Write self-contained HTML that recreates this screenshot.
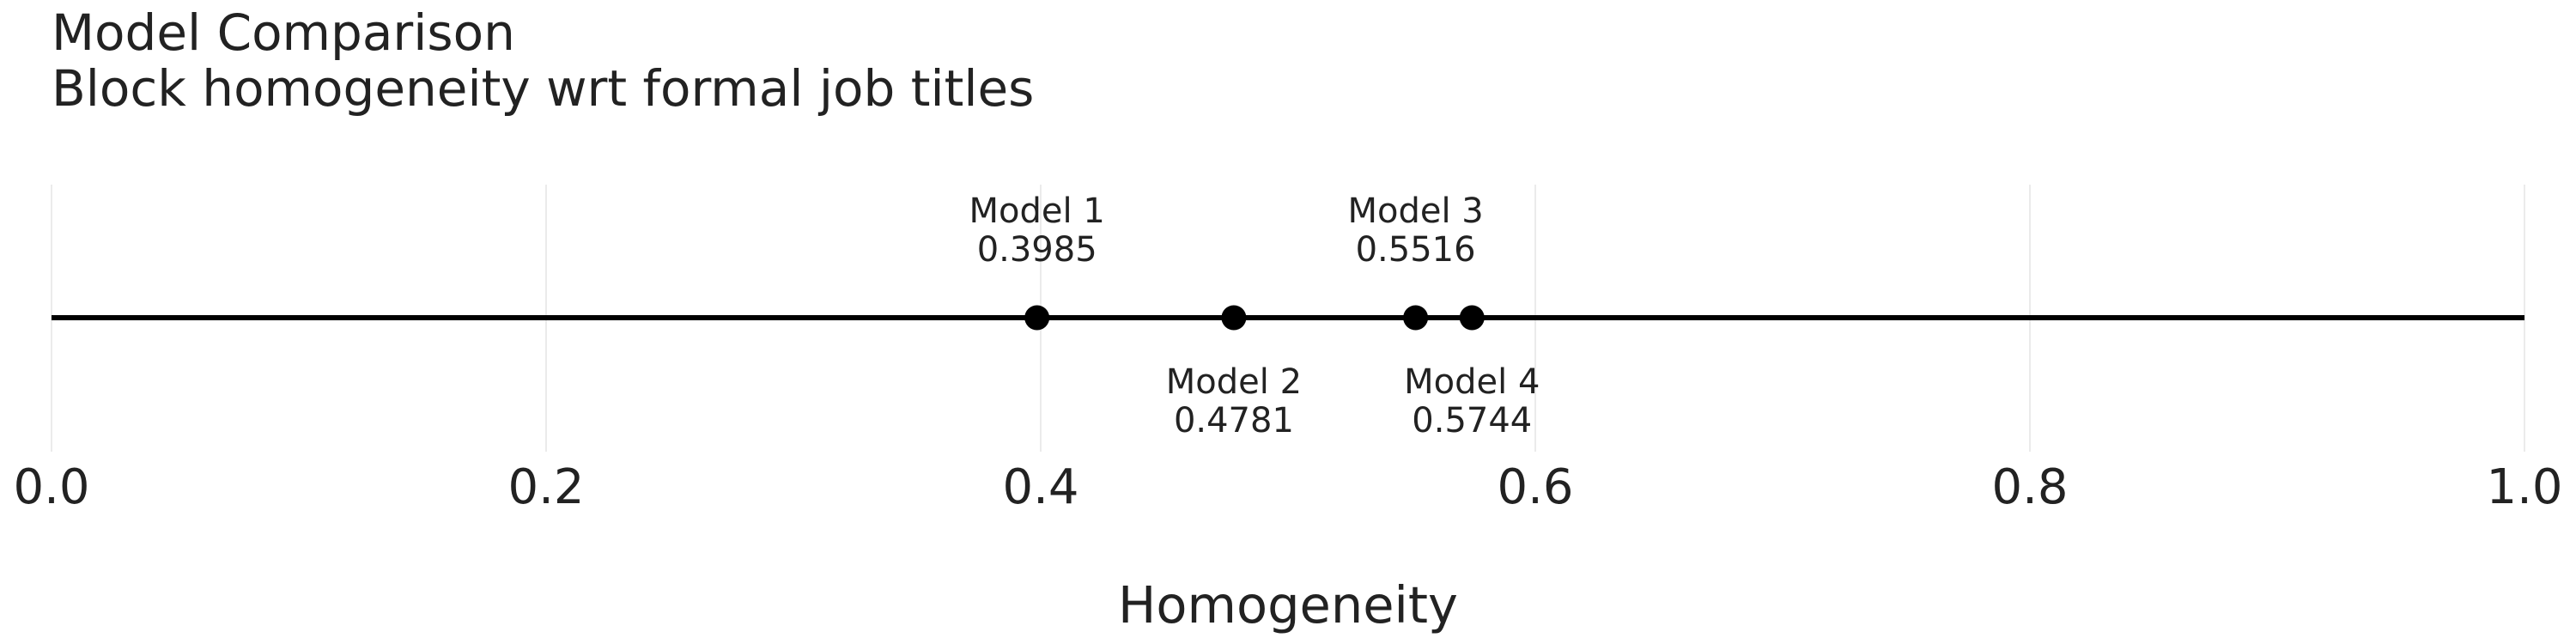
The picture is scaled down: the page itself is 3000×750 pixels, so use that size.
<!DOCTYPE html>
<html><head><meta charset="utf-8"><style>
html,body{margin:0;padding:0;background:#fff;width:3000px;height:750px;overflow:hidden}
svg text{font-family:"DejaVu Sans","Liberation Sans",sans-serif;fill:#222}
</style></head><body>
<svg id="chart" width="3000" height="750">
<text x="60" y="58" font-size="58">Model Comparison</text>
<text x="60" y="123" font-size="58">Block homogeneity wrt formal job titles</text>
<g id="grid"></g>
<g id="ticks"></g>
<line x1="60" x2="2940" y1="370" y2="370" stroke="#000" stroke-width="6"/>
<g id="marks"></g>
<text x="1500" y="725" font-size="59" text-anchor="middle">Homogeneity</text>
</svg>
<script>
const models = ["Model 1","Model 2","Model 3","Model 4"];
const values = [0.3985,0.4781,0.5516,0.5744];
const valueLabels = ["0.3985","0.4781","0.5516","0.5744"];
const labelAbove = [true,false,true,false];
const tickValues = [0,0.2,0.4,0.6,0.8,1.0];
const tickLabels = ["0.0","0.2","0.4","0.6","0.8","1.0"];
const NS="http://www.w3.org/2000/svg";
const x = v => 60 + v*2880;
const grid=document.getElementById('grid'), ticks=document.getElementById('ticks'), marks=document.getElementById('marks');
tickValues.forEach((t,i)=>{
  const l=document.createElementNS(NS,'line');
  l.setAttribute('x1',x(t));l.setAttribute('x2',x(t));l.setAttribute('y1',215);l.setAttribute('y2',526);
  l.setAttribute('stroke','#ebebeb');l.setAttribute('stroke-width','2');
  
  
  grid.appendChild(l);
  const tx=document.createElementNS(NS,'text');
  tx.setAttribute('x',x(t));tx.setAttribute('y',586);tx.setAttribute('font-size','56');tx.setAttribute('text-anchor','middle');
  tx.textContent=tickLabels[i];
  
  
  ticks.appendChild(tx);
});
values.forEach((v,i)=>{
  const c=document.createElementNS(NS,'circle');
  c.setAttribute('cx',x(v));c.setAttribute('cy',370);c.setAttribute('r',14.5);c.setAttribute('fill','#000');
  
  
  marks.appendChild(c);
  const y1 = labelAbove[i] ? 259 : 458;
  const t1=document.createElementNS(NS,'text');
  t1.setAttribute('x',x(v));t1.setAttribute('y',y1);t1.setAttribute('font-size','40');t1.setAttribute('text-anchor','middle');
  t1.textContent=models[i];
  
  
  marks.appendChild(t1);
  const t2=document.createElementNS(NS,'text');
  t2.setAttribute('x',x(v));t2.setAttribute('y',y1+45);t2.setAttribute('font-size','40');t2.setAttribute('text-anchor','middle');
  t2.textContent=valueLabels[i];
  
  
  marks.appendChild(t2);
});
</script>
</body></html>
